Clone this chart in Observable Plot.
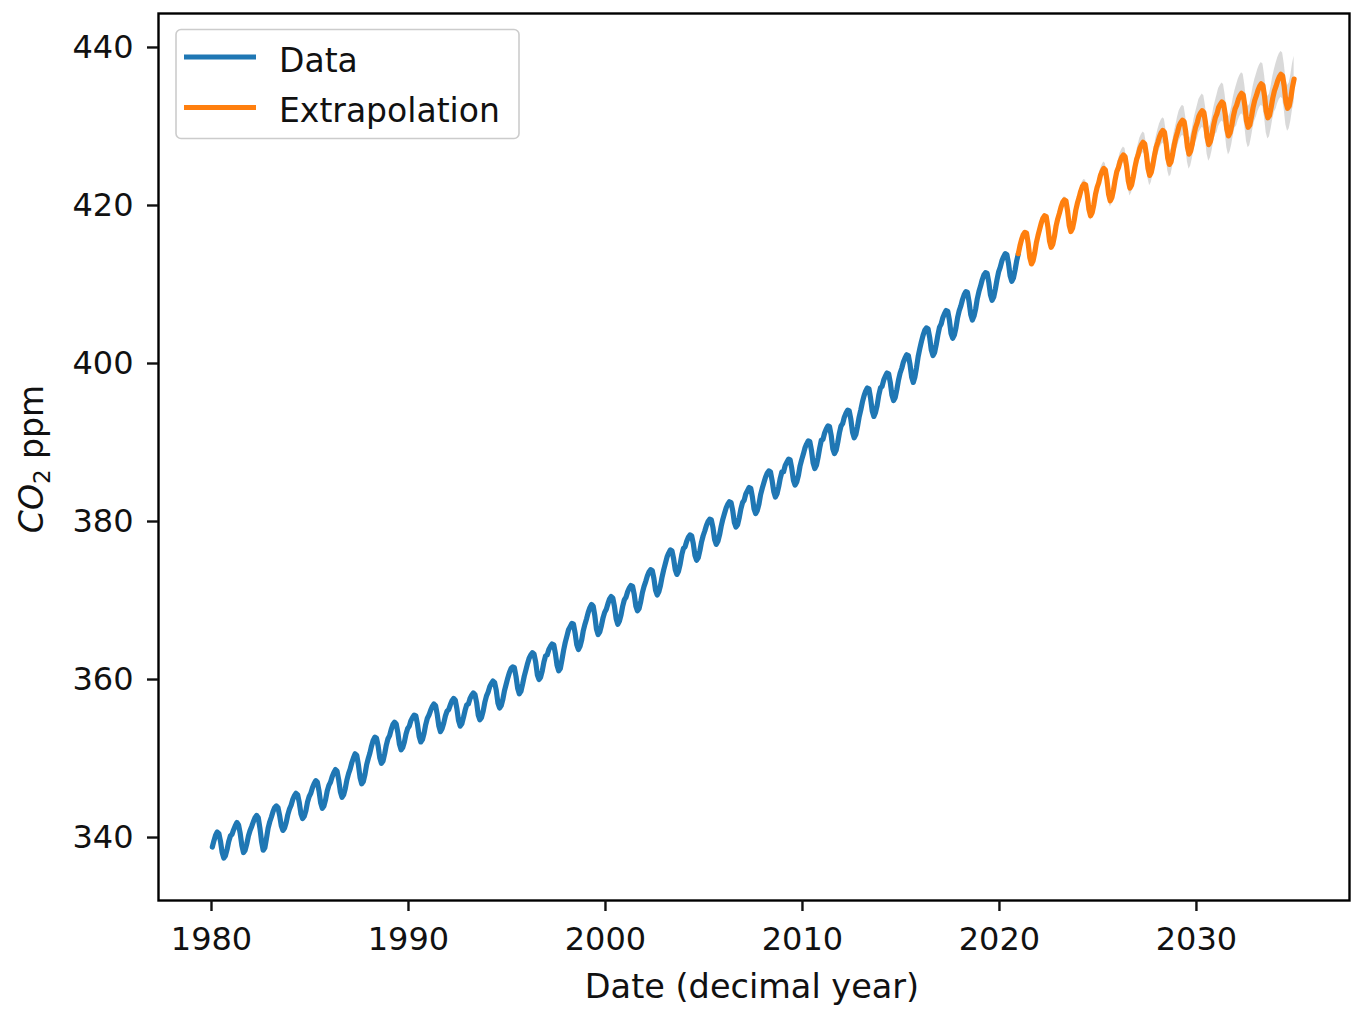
<!DOCTYPE html>
<html>
<head>
<meta charset="utf-8">
<script src="https://cdn.jsdelivr.net/npm/d3@7"></script>
<script src="https://cdn.jsdelivr.net/npm/@observablehq/plot@0.6"></script>
<style>
  body { margin: 0; background: #fff; }
  #chart svg { display: block; }
</style>
</head>
<body>
<div id="chart"></div>
<script>
// ---------- data ----------
const dataYears = [1980,1981,1982,1983,1984,1985,1986,1987,1988,1989,
                   1990,1991,1992,1993,1994,1995,1996,1997,1998,1999,
                   2000,2001,2002,2003,2004,2005,2006,2007,2008,2009,
                   2010,2011,2012,2013,2014,2015,2016,2017,2018,2019,2020];

// monthly CO2 ppm, Jan..Dec for each year above
const dataMonthly = [
  [338.8,339.6,340.3,340.7,340.5,339.5,338.1,337.4,337.7,338.5,339.5,340.2],
  [340.4,341.0,341.5,341.9,341.6,340.5,339.0,338.1,338.4,339.2,340.2,340.9],
  [341.4,342.0,342.5,342.8,342.5,341.2,339.5,338.4,338.7,339.9,341.2,342.0],
  [342.6,343.3,343.8,344.0,343.8,342.8,341.5,340.9,341.2,341.9,342.9,343.6],
  [344.1,344.8,345.3,345.6,345.4,344.4,343.0,342.4,342.7,343.4,344.5,345.2],
  [345.6,346.3,346.8,347.2,347.0,345.9,344.4,343.7,344.0,344.8,345.9,346.6],
  [347.0,347.7,348.2,348.6,348.4,347.3,345.8,345.1,345.4,346.2,347.3,348.1],
  [348.7,349.5,350.1,350.6,350.4,349.2,347.6,346.8,347.1,348.0,349.2,350.0],
  [350.7,351.6,352.3,352.7,352.6,351.6,350.1,349.4,349.7,350.6,351.7,352.5],
  [352.9,353.7,354.3,354.6,354.4,353.3,351.8,351.1,351.4,352.1,353.1,353.8],
  [354.1,354.8,355.2,355.5,355.4,354.3,352.8,352.1,352.4,353.2,354.3,355.1],
  [355.5,356.1,356.6,356.9,356.7,355.6,354.1,353.4,353.8,354.5,355.4,356.0],
  [356.2,356.8,357.3,357.6,357.4,356.3,354.8,354.1,354.4,355.2,356.1,356.8],
  [356.9,357.6,358.0,358.3,358.1,357.1,355.5,354.9,355.2,356.0,357.1,357.9],
  [358.4,359.1,359.5,359.8,359.6,358.6,357.0,356.4,356.7,357.5,358.6,359.4],
  [360.2,360.9,361.4,361.6,361.5,360.4,358.9,358.2,358.5,359.4,360.4,361.2],
  [362.0,362.7,363.1,363.4,363.2,362.2,360.6,360.0,360.3,361.1,362.2,363.0],
  [363.1,363.8,364.2,364.5,364.4,363.3,361.8,361.1,361.4,362.5,363.7,364.7],
  [365.5,366.3,366.7,367.1,367.0,365.9,364.4,363.8,364.2,365.0,366.2,367.0],
  [367.7,368.5,369.1,369.5,369.3,368.1,366.4,365.7,366.0,366.8,367.8,368.5],
  [368.9,369.6,370.2,370.5,370.3,369.2,367.7,367.0,367.4,368.2,369.3,370.1],
  [370.4,371.1,371.6,371.9,371.8,370.8,369.3,368.7,369.0,369.9,371.0,371.8],
  [372.4,373.1,373.6,373.9,373.8,372.8,371.3,370.7,371.1,371.9,373.0,373.9],
  [374.7,375.5,376.0,376.4,376.3,375.3,373.9,373.3,373.7,374.6,375.8,376.6],
  [376.8,377.5,378.0,378.3,378.2,377.2,375.7,375.1,375.4,376.3,377.4,378.2],
  [378.8,379.5,380.0,380.3,380.2,379.2,377.7,377.1,377.5,378.3,379.4,380.3],
  [381.0,381.7,382.2,382.5,382.4,381.4,379.9,379.3,379.6,380.5,381.6,382.4],
  [382.7,383.5,383.9,384.3,384.2,383.1,381.6,381.0,381.4,382.2,383.4,384.2],
  [384.9,385.6,386.1,386.4,386.3,385.2,383.8,383.1,383.5,384.4,385.5,386.3],
  [386.3,387.1,387.5,387.9,387.8,386.7,385.2,384.6,385.0,385.8,387.0,387.8],
  [388.5,389.3,389.8,390.2,390.1,389.0,387.4,386.7,387.1,388.1,389.3,390.3],
  [390.4,391.2,391.7,392.1,392.0,390.9,389.2,388.6,389.0,390.0,391.2,392.1],
  [392.4,393.2,393.7,394.1,394.0,392.9,391.3,390.6,391.0,392.0,393.2,394.1],
  [395.1,395.9,396.5,396.9,396.8,395.6,394.0,393.3,393.8,394.7,396.0,396.9],
  [397.1,397.9,398.4,398.8,398.7,397.6,396.0,395.3,395.7,396.7,397.9,398.8],
  [399.4,400.2,400.7,401.1,401.0,399.9,398.3,397.6,398.3,399.5,400.9,401.9],
  [402.8,403.6,404.2,404.5,404.4,403.3,401.7,401.0,401.4,402.4,403.6,404.6],
  [405.0,405.8,406.3,406.7,406.6,405.5,403.8,403.2,403.6,404.5,405.8,406.7],
  [407.3,408.1,408.7,409.1,409.0,407.8,406.2,405.5,406.0,406.9,408.2,409.1],
  [409.8,410.6,411.2,411.5,411.4,410.3,408.7,408.0,408.4,409.4,410.6,411.6],
  [412.2,413.0,413.5,413.9,413.8,412.7,411.1,410.4,410.8,411.8,413.0,413.9]
];

const extrapYears = [2021,2022,2023,2024,2025,2026,2027,2028,2029,2030,2031,2032,2033,2034];

const extrapMonthly = [
  [414.9,415.7,416.3,416.6,416.5,415.2,413.4,412.6,413.0,414.0,415.3,416.2],
  [417.0,417.8,418.4,418.7,418.6,417.3,415.5,414.7,415.1,416.1,417.4,418.3],
  [419.0,419.8,420.4,420.7,420.6,419.3,417.5,416.7,417.1,418.1,419.4,420.3],
  [421.0,421.8,422.4,422.7,422.6,421.3,419.5,418.7,419.1,420.1,421.4,422.3],
  [422.9,423.8,424.3,424.7,424.5,423.2,421.4,420.6,421.0,422.0,423.3,424.3],
  [424.8,425.6,426.1,426.4,426.2,424.9,423.1,422.2,422.6,423.6,424.8,425.8],
  [426.4,427.2,427.7,428.0,427.8,426.5,424.7,423.8,424.2,425.2,426.4,427.4],
  [428.0,428.7,429.2,429.5,429.3,427.9,426.0,425.2,425.5,426.5,427.7,428.6],
  [429.3,430.1,430.5,430.8,430.6,429.3,427.4,426.5,426.9,427.8,429.0,429.9],
  [430.5,431.3,431.7,432.0,431.8,430.5,428.6,427.7,428.1,429.0,430.2,431.1],
  [431.6,432.4,432.8,433.1,432.9,431.6,429.7,428.8,429.2,430.1,431.3,432.2],
  [432.7,433.4,433.9,434.2,434.0,432.6,430.7,429.9,430.2,431.2,432.4,433.3],
  [433.9,434.6,435.1,435.4,435.2,433.8,431.9,431.1,431.4,432.4,433.6,434.5],
  [435.1,435.8,436.3,436.6,436.4,435.0,433.1,432.3,432.6,433.6,435.0,436.0]
];

// half-width of the grey uncertainty band, per extrapolated year (ppm)
const bandHalfWidth = [0.1,0.25,0.4,0.6,0.8,1.0,1.3,1.6,1.9,2.1,2.4,2.6,2.7,2.9];

const xTicks = [1980, 1990, 2000, 2010, 2020, 2030];
const yTicks = [340, 360, 380, 400, 420, 440];

const seriesNames = ["Data", "Extrapolation"];
const seriesColors = ["#1f77b4", "#ff7f0e"];

// ---------- tables ----------
const dataRows = dataYears.flatMap((yr, i) =>
  dataMonthly[i].map((v, m) => ({t: yr + (m + 0.5) / 12, co2: v})));

const lastData = dataRows[dataRows.length - 1];
const extrapRows = [{t: lastData.t, co2: lastData.co2, lo: lastData.co2, hi: lastData.co2}].concat(
  extrapYears.flatMap((yr, i) =>
    extrapMonthly[i].map((v, m) => ({
      t: yr + (m + 0.5) / 12, co2: v,
      lo: v - bandHalfWidth[i], hi: v + bandHalfWidth[i]
    }))));

// ---------- chart ----------
const FS = 32;
const LW = 5.2;
const chart = Plot.plot({
  width: 1362,
  height: 1020,
  marginLeft: 158,
  marginRight: 13,
  marginTop: 13,
  marginBottom: 120,
  style: {fontFamily: "DejaVu Sans", fontSize: FS + "px", color: "#111", background: "#fff", overflow: "visible"},
  x: {domain: [1977.31, 2037.77]},
  y: {domain: [332.03, 444.30]},
  marks: [
    Plot.areaY(extrapRows, {x: "t", y1: "lo", y2: "hi", fill: "#808080", fillOpacity: 0.3}),
    Plot.line(dataRows, {x: "t", y: "co2", stroke: seriesColors[0], strokeWidth: LW, strokeLinejoin: "round"}),
    Plot.line(extrapRows, {x: "t", y: "co2", stroke: seriesColors[1], strokeWidth: LW, strokeLinejoin: "round"}),
    Plot.frame({stroke: "#000", strokeWidth: 2.4}),
    Plot.axisX({ticks: xTicks, tickFormat: d => String(d), tickSize: 11, tickPadding: 16,
                strokeWidth: 2.4, fontSize: FS, label: null}),
    Plot.axisY({ticks: yTicks, tickFormat: d => String(d), tickSize: 11, tickPadding: 14,
                strokeWidth: 2.4, fontSize: FS, label: null})
  ]
});
document.getElementById("chart").appendChild(chart);

// ---------- axis labels and legend ----------
const svg = d3.select(chart);

svg.append("text")
  .attr("x", 752).attr("y", 998)
  .attr("text-anchor", "middle")
  .attr("font-family", "DejaVu Sans").attr("font-size", 33.5).attr("fill", "#111")
  .text("Date (decimal year)");

const yl = svg.append("text")
  .attr("transform", "translate(43,459) rotate(-90)")
  .attr("text-anchor", "middle")
  .attr("font-family", "DejaVu Sans").attr("font-size", 33).attr("fill", "#111");
yl.append("tspan").attr("font-style", "italic").text("CO");
yl.append("tspan").attr("font-size", 33 * 0.7).attr("dy", 7).text("2");
yl.append("tspan").attr("dy", -7).text("\u00a0ppm");

const lg = svg.append("g");
lg.append("rect")
  .attr("x", 176).attr("y", 29.5).attr("width", 343).attr("height", 109)
  .attr("rx", 5).attr("ry", 5)
  .attr("fill", "#fff").attr("fill-opacity", 0.8)
  .attr("stroke", "#cccccc").attr("stroke-width", 1.6);
seriesNames.forEach((name, i) => {
  const ly = 57 + i * 50.5;
  lg.append("line")
    .attr("x1", 184).attr("x2", 256).attr("y1", ly).attr("y2", ly)
    .attr("stroke", seriesColors[i]).attr("stroke-width", LW);
  lg.append("text")
    .attr("x", 279).attr("y", ly + 14.8)
    .attr("text-anchor", "start")
    .attr("font-family", "DejaVu Sans").attr("font-size", 33).attr("fill", "#111")
    .text(name);
});
</script>
</body>
</html>
